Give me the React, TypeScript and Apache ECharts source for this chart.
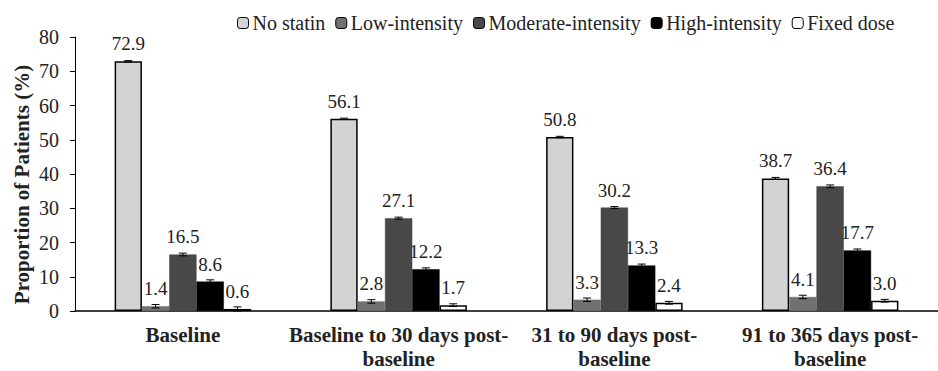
import React, { useEffect, useRef } from "react";
import * as echarts from "echarts";

const categories = [
  "Baseline",
  "Baseline to 30 days post-\nbaseline",
  "31 to 90 days post-\nbaseline",
  "91 to 365 days post-\nbaseline",
];
const seriesNames = ["No statin", "Low-intensity", "Moderate-intensity", "High-intensity", "Fixed dose"];
const noStatin = [72.9, 56.1, 50.8, 38.7];
const lowIntensity = [1.4, 2.8, 3.3, 4.1];
const moderateIntensity = [16.5, 27.1, 30.2, 36.4];
const highIntensity = [8.6, 12.2, 13.3, 17.7];
const fixedDose = [0.6, 1.7, 2.4, 3.0];
const errNoStatin = [0.2, 0.2, 0.2, 0.3];
const errLow = [0.5, 0.5, 0.5, 0.5];
const errModerate = [0.4, 0.3, 0.3, 0.4];
const errHigh = [0.5, 0.4, 0.4, 0.4];
const errFixed = [0.6, 0.4, 0.4, 0.4];
const yTicks = { min: 0, max: 80, interval: 10 };
const yAxisTitle = "Proportion of Patients (%)";

const FONT = "Liberation Serif";
const colors = ["#d3d3d3", "#717171", "#484848", "#000000", "#ffffff"];
const borders = ["#000", "#717171", "#484848", "#000", "#000"];
const BAR_W = 27.3;

export default function App() {
  const ref = useRef<HTMLDivElement>(null);
  useEffect(() => {
    if (!ref.current) return;
    document.body.style.margin = "0";
    const chart = echarts.init(ref.current, undefined, { renderer: "svg" });
    const values = [noStatin, lowIntensity, moderateIntensity, highIntensity, fixedDose];
    const errs = [errNoStatin, errLow, errModerate, errHigh, errFixed];

    const barSeries = values.map((vals, i) => ({
      name: seriesNames[i],
      type: "bar",
      data: vals,
      barWidth: BAR_W,
      barGap: "0%",
      itemStyle: { color: colors[i], borderColor: borders[i], borderWidth: i === 0 || i === 4 ? 1.5 : 0.5 },
      label: {
        show: true,
        position: "top",
        distance: 8,
        formatter: (p: any) => Number(p.value).toFixed(1),
        fontFamily: FONT,
        fontSize: 19,
        color: "#222",
      },
      z: 2,
    }));

    const errSeries = values.map((vals, i) => ({
      type: "custom",
      name: "err" + i,
      data: vals.map((v, k) => [k, v, errs[i][k]]),
      z: 5,
      silent: true,
      renderItem: (params: any, api: any) => {
        const idx = api.value(0);
        const v = api.value(1);
        const e = api.value(2);
        const hi = api.coord([idx, v + e]);
        const lo = api.coord([idx, Math.max(0, v - e)]);
        const x = hi[0] + (i - 2) * BAR_W;
        const cap = 4;
        const style = { stroke: "#000", lineWidth: 1 };
        return {
          type: "group",
          children: [
            { type: "line", shape: { x1: x, y1: hi[1], x2: x, y2: lo[1] }, style },
            { type: "line", shape: { x1: x - cap, y1: hi[1], x2: x + cap, y2: hi[1] }, style },
            { type: "line", shape: { x1: x - cap, y1: lo[1], x2: x + cap, y2: lo[1] }, style },
          ],
        };
      },
    }));

    chart.setOption({
      animation: false,
      textStyle: { fontFamily: FONT },
      legend: {
        data: seriesNames,
        left: 232,
        top: 8,
        itemWidth: 11,
        itemHeight: 11,
        itemGap: 10,
        textStyle: { fontFamily: FONT, fontSize: 20, color: "#222", padding: [0, 0, 0, -1] },
        itemStyle: { borderColor: "#000", borderWidth: 1 },
      },
      grid: { left: 75, top: 37, bottom: 57, right: -11, containLabel: false },
      graphic: [
        {
          type: "text",
          x: 22,
          y: 184.5,
          rotation: Math.PI / 2,
          style: {
            text: yAxisTitle,
            fontFamily: FONT,
            fontSize: 21,
            fontWeight: "bold",
            fill: "#222",
            align: "center",
            verticalAlign: "middle",
          },
        },
      ],
      xAxis: {
        type: "category",
        data: categories,
        axisLine: { lineStyle: { color: "#000", width: 1.5 } },
        axisTick: { show: false },
        axisLabel: {
          interval: 0,
          margin: 12,
          fontFamily: FONT,
          fontSize: 21,
          fontWeight: "bold",
          lineHeight: 24,
          color: "#222",
        },
      },
      yAxis: {
        type: "value",
        min: yTicks.min,
        max: yTicks.max,
        interval: yTicks.interval,
        axisLine: { show: true, lineStyle: { color: "#000", width: 1 } },
        axisTick: { show: true, length: 5, lineStyle: { color: "#000" } },
        splitLine: { show: false },
        axisLabel: { fontFamily: FONT, fontSize: 20, color: "#222", margin: 16 },
      },
      series: [...barSeries, ...errSeries],
    });
    return () => chart.dispose();
  }, []);
  return <div ref={ref} style={{ width: 938, height: 371 }} />;
}
